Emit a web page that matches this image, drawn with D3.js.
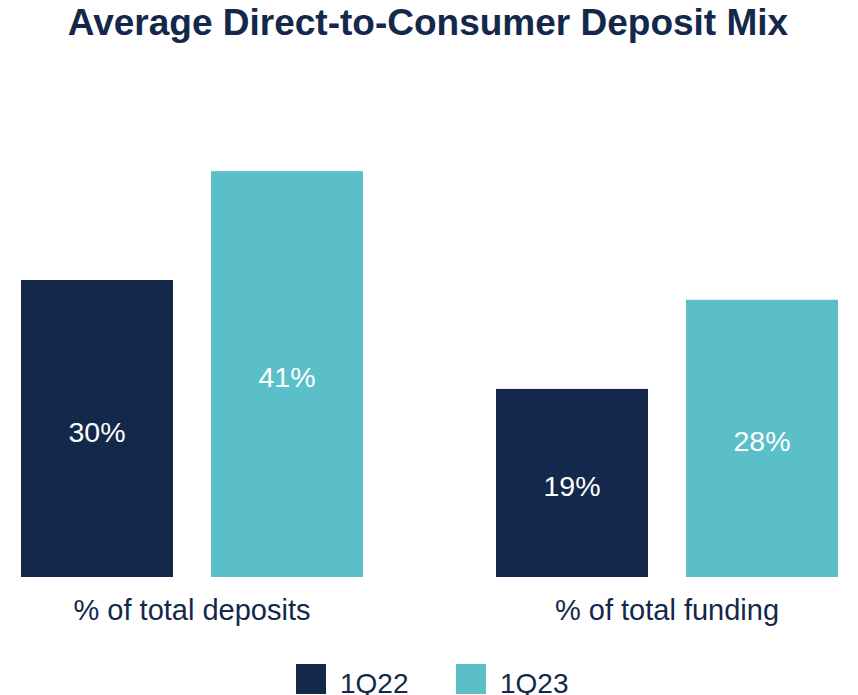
<!DOCTYPE html>
<html>
<head>
<meta charset="utf-8">
<script src="https://cdn.jsdelivr.net/npm/d3@7"></script>
<style>
  html, body { margin: 0; padding: 0; background: #ffffff; }
  svg { display: block; font-family: "Liberation Sans", Arial, sans-serif; }
</style>
</head>
<body>
<svg id="chart" width="858" height="695"></svg>
<script>
const title = "Average Direct-to-Consumer Deposit Mix";
const categories = ["% of total deposits", "% of total funding"];
const seriesNames = ["1Q22", "1Q23"];
const values1Q22 = [30, 19];
const values1Q23 = [41, 28];
const colors = ["#13284A", "#5BBFCA"];

const svg = d3.select("#chart");
const W = 858, H = 695;
const navy = "#13284A";

const data = categories.map((c, i) => ({
  category: c,
  values: [
    { series: seriesNames[0], value: values1Q22[i] },
    { series: seriesNames[1], value: values1Q23[i] }
  ]
}));

const x0 = d3.scaleBand().domain(categories).range([21, 838]).paddingInner(0.28).paddingOuter(0);
const x1 = d3.scaleBand().domain(seriesNames).range([0, x0.bandwidth()]).paddingInner(0.2).paddingOuter(0);
const y = d3.scaleLinear().domain([0, 50]).range([577, 82]);
const color = d3.scaleOrdinal().domain(seriesNames).range(colors);

svg.append("text")
  .attr("x", 428)
  .attr("y", 35)
  .attr("text-anchor", "middle")
  .attr("font-weight", "bold")
  .attr("font-size", 37)
  .attr("fill", navy)
  .text(title);

const groups = svg.append("g").selectAll("g")
  .data(data).join("g")
  .attr("transform", d => `translate(${x0(d.category)},0)`);

groups.selectAll("rect")
  .data(d => d.values).join("rect")
  .attr("x", d => x1(d.series))
  .attr("y", d => y(d.value))
  .attr("width", x1.bandwidth())
  .attr("height", d => y(0) - y(d.value))
  .attr("fill", d => color(d.series));

groups.selectAll("text.val")
  .data(d => d.values).join("text")
  .attr("class", "val")
  .attr("x", d => x1(d.series) + x1.bandwidth() / 2)
  .attr("y", d => (y(d.value) + y(0)) / 2 + 13)
  .attr("text-anchor", "middle")
  .attr("font-size", 28.5)
  .attr("fill", "#ffffff")
  .text(d => d.value + "%");

const xAxis = d3.axisBottom(x0).tickSize(0).tickPadding(0);
const ax = svg.append("g").attr("transform", `translate(0,${y(0)})`).call(xAxis);
ax.select(".domain").remove();
ax.selectAll("text")
  .attr("dy", null)
  .attr("y", 43)
  .attr("font-size", 29)
  .attr("font-family", "Liberation Sans, Arial, sans-serif")
  .attr("fill", navy);

const legendX = [296, 456];
const legend = svg.append("g").selectAll("g")
  .data(seriesNames).join("g")
  .attr("transform", (d, i) => `translate(${legendX[i]},664)`);
legend.append("rect")
  .attr("width", 30).attr("height", 30)
  .attr("fill", d => color(d));
legend.append("text")
  .attr("x", 44).attr("y", 29)
  .attr("font-size", 28)
  .attr("fill", navy)
  .text(d => d);
</script>
</body>
</html>
